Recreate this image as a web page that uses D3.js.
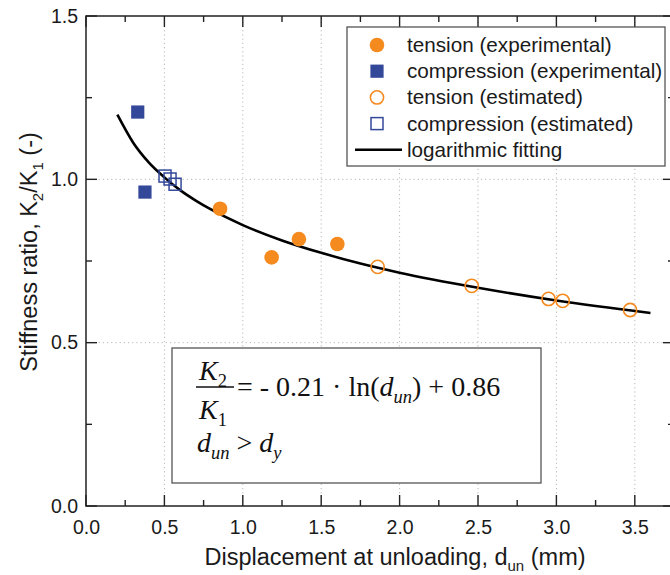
<!DOCTYPE html>
<html>
<head>
<meta charset="utf-8">
<script src="https://cdn.jsdelivr.net/npm/d3@7"></script>
<style>
  body { margin: 0; background: #fff; }
  svg { display: block; font-family: "Liberation Sans", Arial, sans-serif; }
</style>
</head>
<body>
<svg id="chart"></svg>
<script>
// values
const tensionExpX = [0.855, 1.184, 1.358, 1.603];
const tensionExpY = [0.910, 0.761, 0.817, 0.802];
const compExpX = [0.33, 0.376];
const compExpY = [1.206, 0.961];
const tensionEstX = [1.86, 2.46, 2.95, 3.04, 3.47];
const tensionEstY = [0.732, 0.674, 0.634, 0.628, 0.600];
const compEstX = [0.504, 0.536, 0.568];
const compEstY = [1.010, 1.001, 0.985];
const fitX = [0.2, 0.3, 0.4, 0.5, 0.6, 0.7, 0.8, 1.0, 1.25, 1.5, 1.75, 2.0, 2.5, 3.0, 3.6];
const fitY = [1.198, 1.113, 1.052, 1.006, 0.967, 0.935, 0.907, 0.860, 0.813, 0.775, 0.742, 0.714, 0.668, 0.629, 0.591];
const xTicks = [0, 0.5, 1.0, 1.5, 2.0, 2.5, 3.0, 3.5];
const yTicks = [0, 0.5, 1.0, 1.5];
const legendLabels = ["tension (experimental)", "compression (experimental)", "tension (estimated)", "compression (estimated)", "logarithmic fitting"];

const W = 670, H = 575;
const orange = "#f58a1f", blue = "#34489a";

const svg = d3.select("#chart").attr("width", W).attr("height", H);

const x = d3.scaleLinear().domain([0, 3.75]).range([86, 674]);
const y = d3.scaleLinear().domain([0, 1.5]).range([506, 16]);

const zip = (xs, ys) => xs.map((v, i) => [v, ys[i]]);

// dotted grid
svg.append("g").selectAll("line")
  .data(xTicks.filter(d => d > 0))
  .join("line")
  .attr("x1", d => x(d)).attr("x2", d => x(d))
  .attr("y1", y(0)).attr("y2", y(1.5))
  .attr("stroke", "#b8b8b8").attr("stroke-dasharray", "1.2,3");
svg.append("g").selectAll("line")
  .data(yTicks.filter(d => d > 0 && d < 1.5))
  .join("line")
  .attr("x1", x(0)).attr("x2", x(3.75))
  .attr("y1", d => y(d)).attr("y2", d => y(d))
  .attr("stroke", "#b8b8b8").attr("stroke-dasharray", "1.2,3");

// axes, ticks pointing inwards, mirrored on top/right
const xMinor = d3.range(0, 3.76, 0.25);
const yMinor = d3.range(0, 1.51, 0.25);
const bottom = d3.axisBottom(x).tickValues(xTicks).tickFormat(d3.format(".1f")).tickSize(0).tickPadding(14);
const left = d3.axisLeft(y).tickValues(yTicks).tickFormat(d3.format(".1f")).tickSize(0).tickPadding(8);

const gx = svg.append("g").attr("transform", `translate(0,${y(0)})`).call(bottom);
const gy = svg.append("g").attr("transform", `translate(${x(0)},0)`).call(left);
[gx, gy].forEach(g => {
  g.select(".domain").remove();
  g.selectAll("text").attr("font-size", 19.5).attr("fill", "#1a1a1a")
    .attr("font-family", "Liberation Sans, Arial, sans-serif");
});

const tickG = svg.append("g").attr("stroke", "#222").attr("stroke-width", 1.4);
xMinor.forEach(v => {
  const len = Math.abs(v * 2 - Math.round(v * 2)) < 1e-6 ? 11 : 6;
  tickG.append("line").attr("x1", x(v)).attr("x2", x(v)).attr("y1", y(0)).attr("y2", y(0) - len);
  tickG.append("line").attr("x1", x(v)).attr("x2", x(v)).attr("y1", y(1.5)).attr("y2", y(1.5) + len);
});
yMinor.forEach(v => {
  const len = Math.abs(v * 2 - Math.round(v * 2)) < 1e-6 ? 11 : 6;
  tickG.append("line").attr("x1", x(0)).attr("x2", x(0) + len).attr("y1", y(v)).attr("y2", y(v));
  tickG.append("line").attr("x1", x(3.75)).attr("x2", x(3.75) - len).attr("y1", y(v)).attr("y2", y(v));
});
svg.append("rect")
  .attr("x", x(0)).attr("y", y(1.5))
  .attr("width", x(3.75) - x(0)).attr("height", y(0) - y(1.5))
  .attr("fill", "none").attr("stroke", "#222").attr("stroke-width", 1.5);

// axis titles
svg.append("text")
  .attr("x", 395).attr("y", 565).attr("text-anchor", "middle")
  .attr("font-size", 23.5).attr("fill", "#1a1a1a")
  .call(t => {
    t.append("tspan").text("Displacement at unloading, d");
    t.append("tspan").attr("font-size", 15).attr("dy", 6).text("un");
    t.append("tspan").attr("dy", -6).text(" (mm)");
  });
svg.append("text")
  .attr("transform", `translate(37,252) rotate(-90)`)
  .attr("text-anchor", "middle")
  .attr("font-size", 23.5).attr("fill", "#1a1a1a")
  .call(t => {
    t.append("tspan").text("Stiffness ratio, K");
    t.append("tspan").attr("font-size", 15).attr("dy", 6).text("2");
    t.append("tspan").attr("dy", -6).text("/K");
    t.append("tspan").attr("font-size", 15).attr("dy", 6).text("1");
    t.append("tspan").attr("dy", -6).text(" (-)");
  });

// equation box
const eq = svg.append("g").attr("font-family", "Liberation Serif, 'Times New Roman', serif").attr("fill", "#111");
eq.append("rect").attr("x", 172).attr("y", 348).attr("width", 369).attr("height", 135)
  .attr("fill", "#fff").attr("stroke", "#555").attr("stroke-width", 1.3);

// writes a run of [string, kind] pieces; kind: "r" roman, "i" italic, "s" italic subscript, "n" roman subscript
function mathText(tx, ty, size, pieces) {
  const t = eq.append("text").attr("x", tx).attr("y", ty).attr("font-size", size);
  let low = false;
  pieces.forEach(([str, kind]) => {
    const sub = kind === "s" || kind === "n";
    const sp = t.append("tspan").text(str)
      .attr("font-style", kind === "i" || kind === "s" ? "italic" : "normal");
    if (sub) sp.attr("font-size", size * 0.66);
    if (sub && !low) { sp.attr("dy", size * 0.24); low = true; }
    else if (!sub && low) { sp.attr("dy", -size * 0.24); low = false; }
  });
  return t;
}
mathText(199, 380, 28, [["K", "i"], ["2", "n"]]);
eq.append("line").attr("x1", 196).attr("x2", 234).attr("y1", 387).attr("y2", 387)
  .attr("stroke", "#111").attr("stroke-width", 1.4);
mathText(199, 419, 28, [["K", "i"], ["1", "n"]]);
mathText(237, 396, 28, [["= - 0.21 \u00b7 ln(", "r"], ["d", "i"], ["un", "s"], [") + 0.86", "r"]]);
mathText(197, 452, 28, [["d", "i"], ["un", "s"], [" > ", "r"], ["d", "i"], ["y", "s"]]);

// fitting curve
const line = d3.line().x(d => x(d[0])).y(d => y(d[1])).curve(d3.curveMonotoneX);
svg.append("path").datum(zip(fitX, fitY))
  .attr("d", line).attr("fill", "none").attr("stroke", "#000").attr("stroke-width", 2.6);

// markers
function filledCircle(g, cx, cy) {
  g.append("circle").attr("cx", cx).attr("cy", cy).attr("r", 7.3).attr("fill", orange);
}
function openCircle(g, cx, cy) {
  g.append("circle").attr("cx", cx).attr("cy", cy).attr("r", 6.6)
    .attr("fill", "none").attr("stroke", orange).attr("stroke-width", 1.6);
}
function filledSquare(g, cx, cy) {
  g.append("rect").attr("x", cx - 6.6).attr("y", cy - 6.6).attr("width", 13.2).attr("height", 13.2).attr("fill", blue);
}
function openSquare(g, cx, cy) {
  g.append("rect").attr("x", cx - 6).attr("y", cy - 6).attr("width", 12).attr("height", 12)
    .attr("fill", "none").attr("stroke", blue).attr("stroke-width", 1.5);
}

const pts = svg.append("g");
zip(tensionEstX, tensionEstY).forEach(d => openCircle(pts, x(d[0]), y(d[1])));
zip(compEstX, compEstY).forEach(d => openSquare(pts, x(d[0]), y(d[1])));
zip(tensionExpX, tensionExpY).forEach(d => filledCircle(pts, x(d[0]), y(d[1])));
zip(compExpX, compExpY).forEach(d => filledSquare(pts, x(d[0]), y(d[1])));

// legend
const lg = svg.append("g");
lg.append("rect").attr("x", 347).attr("y", 27).attr("width", 318).attr("height", 139)
  .attr("fill", "#fff").attr("stroke", "#555").attr("stroke-width", 1.3);
const drawers = [filledCircle, filledSquare, openCircle, openSquare, null];
legendLabels.forEach((lab, i) => {
  const cy = 45 + i * 26.2;
  if (drawers[i]) drawers[i](lg, 377, cy);
  else lg.append("line").attr("x1", 355).attr("x2", 402).attr("y1", cy).attr("y2", cy)
    .attr("stroke", "#000").attr("stroke-width", 2.6);
  lg.append("text").attr("x", 407).attr("y", cy + 7).attr("font-size", 20.7)
    .attr("fill", "#1a1a1a").text(lab);
});
</script>
</body>
</html>
